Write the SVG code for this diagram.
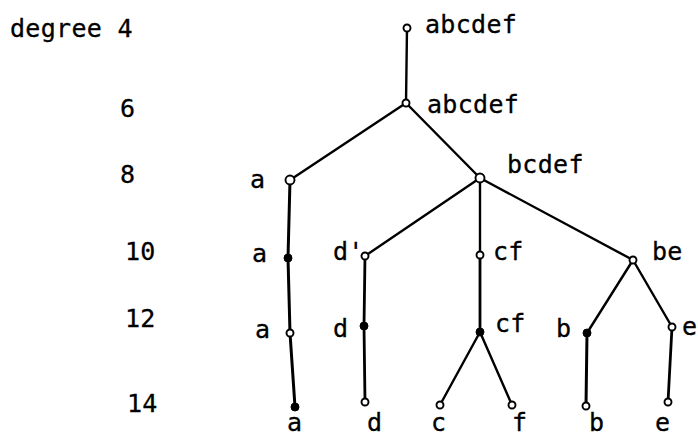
<svg xmlns="http://www.w3.org/2000/svg" width="698" height="436" viewBox="0 0 698 436">
<style>
text{font-family:"DejaVu Sans Mono","Liberation Mono",monospace;font-size:25px;letter-spacing:0.3px;fill:#000;stroke:#000;stroke-width:0.3}
.e{stroke:#000;stroke-width:2.4;fill:none;stroke-linecap:round}
.o{fill:#fff;stroke:#000;stroke-width:1.9}
.f{fill:#000;stroke:#000;stroke-width:1}
</style>
<rect width="698" height="436" fill="#fff"/>
<g id="axis">
<text x="10" y="37">degree 4</text>
<text x="120" y="117">6</text>
<text x="120" y="183">8</text>
<text x="125" y="260">10</text>
<text x="125" y="327">12</text>
<text x="127" y="412">14</text>
</g>
<g id="connectors">
<line class="e" x1="407" y1="28" x2="406" y2="103"/>
<line class="e" x1="406" y1="103" x2="290" y2="180"/>
<line class="e" x1="406" y1="103" x2="480" y2="178"/>
<polyline class="e" style="stroke-width:3" points="290,180 288,258 290,333 295,407"/>
<line class="e" x1="480" y1="178" x2="365" y2="256"/>
<line class="e" x1="480" y1="178" x2="480" y2="255"/>
<line class="e" x1="480" y1="178" x2="633" y2="260"/>
<polyline class="e" style="stroke-width:2.8" points="365,256 364,326 365,402"/>
<line class="e" style="stroke-width:2.8" x1="480" y1="255" x2="480" y2="332"/>
<line class="e" x1="480" y1="332" x2="440" y2="405"/>
<line class="e" x1="480" y1="332" x2="512" y2="405"/>
<line class="e" x1="633" y1="260" x2="587" y2="333"/>
<line class="e" x1="633" y1="260" x2="672" y2="327"/>
<line class="e" style="stroke-width:3" x1="587" y1="333" x2="586" y2="406"/>
<line class="e" style="stroke-width:2.8" x1="672" y1="327" x2="668" y2="402"/>
</g>
<g id="n-root"><circle class="o" cx="407" cy="28" r="3.5"/><text x="425" y="33">abcdef</text></g>
<g id="n-6"><circle class="o" cx="406" cy="103" r="3.5"/><text x="427" y="113">abcdef</text></g>
<g id="n-a8"><circle class="o" cx="290" cy="180" r="4.5"/><text x="250" y="188">a</text></g>
<g id="n-bcdef"><circle class="o" cx="480" cy="178" r="4.5"/><text x="507" y="173">bcdef</text></g>
<g id="n-a10"><circle class="f" cx="288" cy="258" r="4"/><text x="252" y="262">a</text></g>
<g id="n-a12"><circle class="o" cx="290" cy="333" r="3.5"/><text x="255" y="338">a</text></g>
<g id="n-a14"><circle class="f" cx="295" cy="407" r="4"/><text x="287" y="431">a</text></g>
<g id="n-d10"><circle class="o" cx="365" cy="256" r="3.5"/><text x="333" y="260">d'</text></g>
<g id="n-d12"><circle class="f" cx="364" cy="326" r="4"/><text x="333" y="337">d</text></g>
<g id="n-d14"><circle class="o" cx="365" cy="402" r="3.5"/><text x="367" y="431">d</text></g>
<g id="n-cf10"><circle class="o" cx="480" cy="255" r="3.5"/><text x="493" y="260">cf</text></g>
<g id="n-cf12"><circle class="f" cx="480" cy="332" r="4"/><text x="495" y="332">cf</text></g>
<g id="n-c14"><circle class="o" cx="440" cy="405" r="3.5"/><text x="431" y="431">c</text></g>
<g id="n-f14"><circle class="o" cx="512" cy="405" r="3.5"/><text x="512" y="431">f</text></g>
<g id="n-be"><circle class="o" cx="633" cy="260" r="3.5"/><text x="652" y="260">be</text></g>
<g id="n-b12"><circle class="f" cx="587" cy="333" r="4"/><text x="556" y="337">b</text></g>
<g id="n-e12"><circle class="o" cx="672" cy="327" r="3.5"/><text x="682" y="335">e</text></g>
<g id="n-b14"><circle class="o" cx="586" cy="406" r="3.5"/><text x="589" y="431">b</text></g>
<g id="n-e14"><circle class="o" cx="668" cy="402" r="3.5"/><text x="655" y="431">e</text></g>
</svg>
